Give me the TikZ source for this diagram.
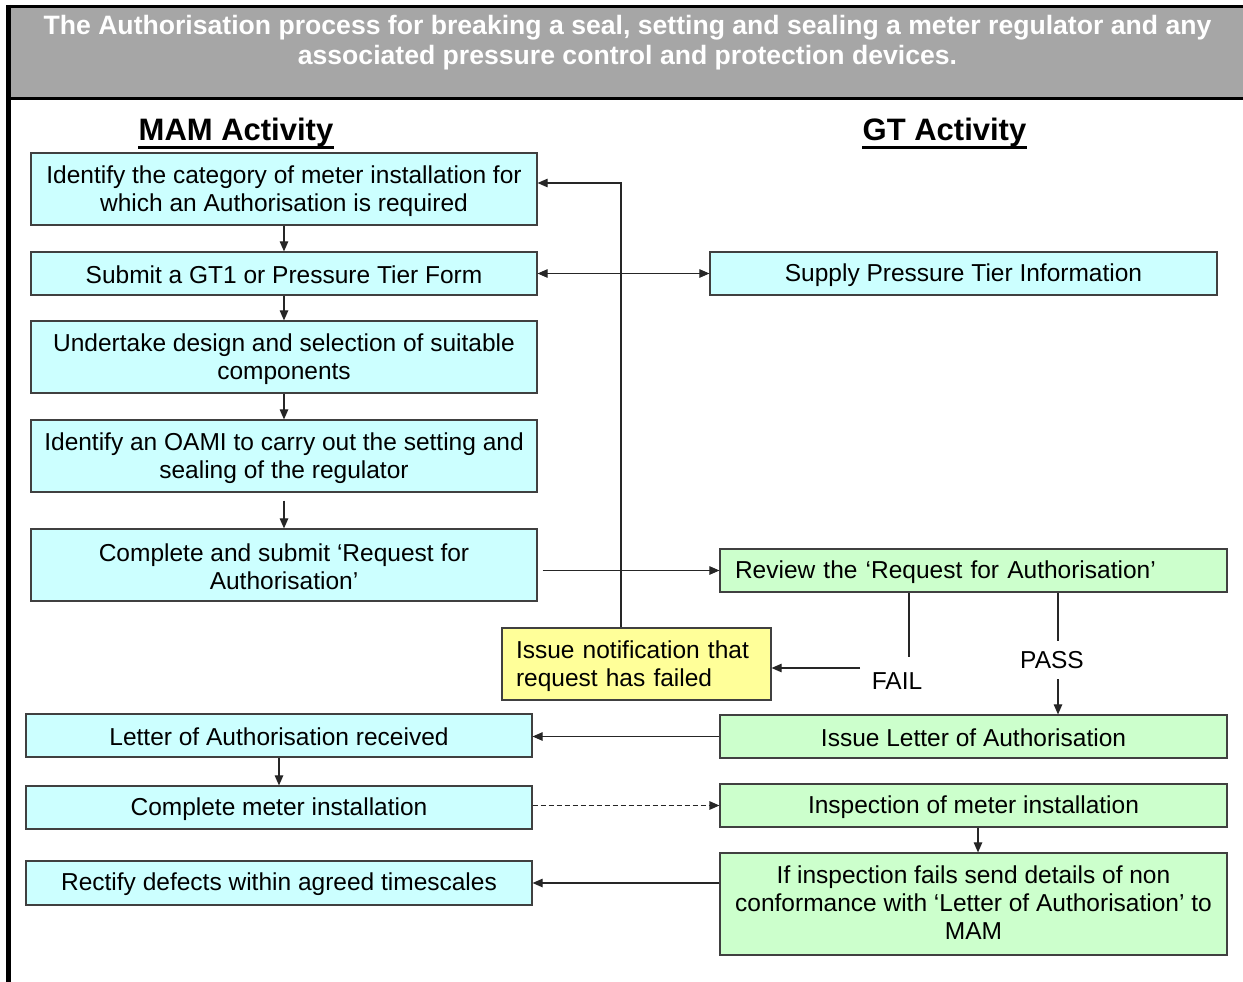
\documentclass[tikz,border=0pt]{standalone}
\usepackage{fontspec}
\setmainfont{Liberation Sans}
\usetikzlibrary{arrows.meta}
\definecolor{cyanfill}{HTML}{CCFFFF}
\definecolor{greenfill}{HTML}{CCFFCC}
\definecolor{yellowfill}{HTML}{FFFF99}
\definecolor{headgray}{HTML}{A6A6A6}
\definecolor{boxline}{HTML}{404040}
\begin{document}
\begin{tikzpicture}[x=1pt,y=-1pt,
  box/.style={draw=boxline, line width=1.2pt, inner sep=0pt, minimum width=506pt,
    align=center, font=\fontsize{24.5}{28}\selectfont},
  oneline/.style={text height=21pt},
  twolines/.style={text height=50pt},
  threelines/.style={text height=71pt},
  cyanbox/.style={box, fill=cyanfill},
  greenbox/.style={box, fill=greenfill, minimum width=507pt},
  leftbox/.style={box, inner xsep=15pt, align=left, text height=22pt},
  tip/.tip={Triangle[length=10pt,width=8.5pt]},
  arr/.style={-tip, line width=1.1pt, draw=black!85},
  plain/.style={line width=1.1pt, draw=black!85},
  lbl/.style={inner sep=0pt, font=\fontsize{24.5}{28}\selectfont},
  heading/.style={inner sep=0pt, font=\fontsize{31}{36}\selectfont\bfseries},
]
\useasboundingbox (0,0) rectangle (1243,982);
% frame and title
\fill[headgray] (11,8) rectangle (1243,97);
\draw[line width=3.5pt] (6,6.5) -- (1243,6.5);
\draw[line width=3.5pt] (6,98.5) -- (1243,98.5);
\draw[line width=4.5pt] (8.5,5) -- (8.5,982);
\node[inner sep=0pt, align=center, text=white, font=\fontsize{26.6}{30}\selectfont\bfseries] (title) at (627.5,43)
  {The Authorisation process for breaking a seal, setting and sealing a meter regulator and any\\associated pressure control and protection devices.};
% headings
\node[heading] (mam) at (236,132) {MAM Activity};
\node[heading] (gt) at (944.5,132) {GT Activity};
\draw[line width=2.5pt] ([yshift=-1pt]mam.south west) -- ([yshift=-1pt]mam.south east);
\draw[line width=2.5pt] ([yshift=-1pt]gt.south west) -- ([yshift=-1pt]gt.south east);
% MAM boxes
\node[cyanbox, twolines, minimum height=72pt] (b1) at (284,189) {Identify the category of meter installation for\\which an Authorisation is required};
\node[cyanbox, oneline, minimum height=43pt] (b2) at (284,273.5) {Submit a GT1 or Pressure Tier Form};
\node[cyanbox, twolines, minimum height=72pt] (b3) at (284,357) {Undertake design and selection of suitable\\components};
\node[cyanbox, twolines, minimum height=72pt] (b4) at (284,456) {Identify an OAMI to carry out the setting and\\sealing of the regulator};
\node[cyanbox, twolines, minimum height=72pt] (b5) at (284,565) {Complete and submit ‘Request for\\Authorisation’};
\node[cyanbox, oneline, minimum height=43pt] (b6) at (279,735.5) {Letter of Authorisation received};
\node[cyanbox, oneline, minimum height=43pt] (b7) at (279,807.5) {Complete meter installation};
\node[cyanbox, oneline, minimum height=44pt] (b8) at (279,883) {Rectify defects within agreed timescales};
% GT boxes
\node[cyanbox, oneline, minimum width=507pt, minimum height=43pt] (supply) at (963.5,273.5) {Supply Pressure Tier Information};
\node[leftbox, fill=greenfill, minimum width=507pt, text width=477pt, minimum height=43pt] (review) at (973.5,570.5) {Review the ‘Request for Authorisation’};
\node[leftbox, fill=yellowfill, minimum width=269pt, inner xsep=14pt, text width=241pt, minimum height=72pt] (fail) at (636.5,664) {Issue notification that\\request has failed};
\node[greenbox, oneline, minimum height=43pt] (letter) at (973.5,736.5) {Issue Letter of Authorisation};
\node[greenbox, oneline, minimum height=43pt] (insp) at (973.5,805.5) {Inspection of meter installation};
\node[greenbox, threelines, minimum height=102pt] (ifinsp) at (973.5,904) {If inspection fails send details of non\\conformance with ‘Letter of Authorisation’ to\\MAM};
% labels
\node[lbl] (faillbl) at (897,681) {FAIL};
\node[lbl] (passlbl) at (1052,660) {PASS};
\coordinate (failtop) at (909,657);
\coordinate (failleft) at (860,668);
\coordinate (passtop) at (1058,641);
\coordinate (passbot) at (1058,679);
% connectors
\draw[arr] (b1) -- (b2);
\draw[arr] (b2) -- (b3);
\draw[arr] (b3) -- (b4);
\draw[arr, shorten <=8pt] (b4) -- (b5);
\draw[arr] (b6) -- (b7);
\draw[arr] ([xshift=-15.5pt]fail.north) |- ([yshift=6pt]b1.east);
\draw[tip-tip, line width=1.1pt, draw=black!85] (b2.east) -- (supply.west);
\draw[arr, shorten <=5pt] (b5.east |- review.west) -- (review.west);
\draw[plain] (review.south -| failtop) -- (failtop);
\draw[arr] (failleft) -- (fail.east |- failleft);
\draw[plain] (review.south -| passtop) -- (passtop);
\draw[arr] (passbot) -- (letter.north -| passbot);
\draw[arr] (letter.west) -- (b6.east |- letter.west);
\draw[arr, line width=1.4pt, dash pattern=on 5pt off 3pt] (b7.east |- insp.west) -- (insp.west);
\draw[arr] ([xshift=4.5pt]insp.south) -- ([xshift=4.5pt]ifinsp.north);
\draw[arr] (ifinsp.west |- b8.east) -- (b8.east);
\end{tikzpicture}
\end{document}
